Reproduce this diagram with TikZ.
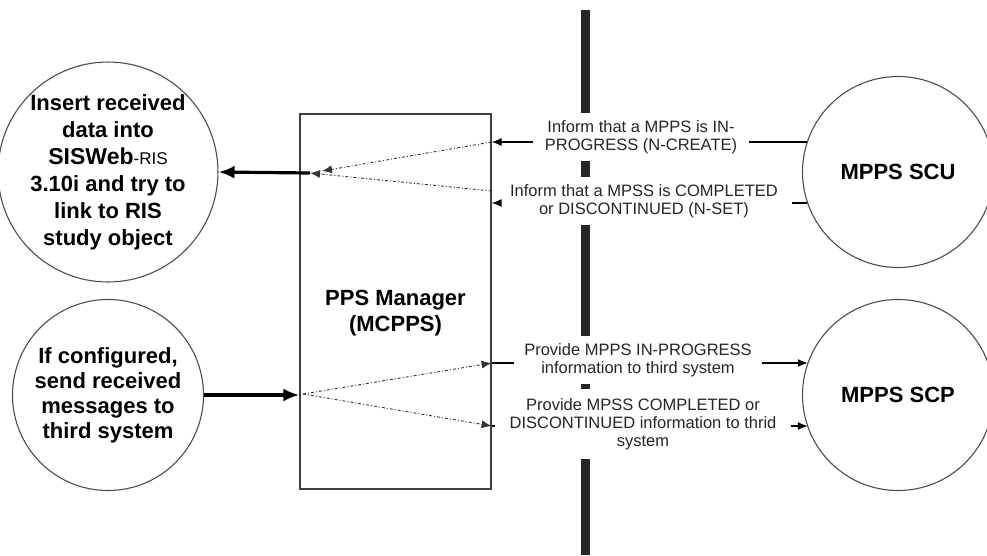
\documentclass[tikz,border=0pt]{standalone}
\usepackage{fontspec}
\setmainfont{Liberation Sans}
\usetikzlibrary{arrows.meta,positioning,calc}

\tikzset{
  bubble/.style={circle, draw=black!70, line width=1.1pt, minimum size=191pt, inner sep=0pt, align=center,
    font=\fontsize{22}{27}\selectfont\bfseries},
  msg/.style={fill=white, align=center, inner xsep=10pt, inner ysep=7pt, text=black!85,
    font=\fontsize{16.5}{18}\selectfont},
  flow/.style={-{Latex[length=10pt,width=8pt]}, line width=1.2pt},
  dotflow/.style={-{Latex[length=10pt,width=8pt]}, line width=0.9pt, black!80,
    dash pattern=on 3pt off 2pt on 1pt off 2pt},
  bigflow/.style={-{Latex[length=16pt,width=13pt]}, line width=3.2pt},
}

\begin{document}
\begin{tikzpicture}[x=1pt, y=-1pt]
\useasboundingbox (0,0) rectangle (987,555);

% the wall between the two sides
\coordinate (bartop) at (585,10);
\coordinate (barbot) at (585,555);
\draw[line width=9pt, black!85] (bartop) -- (barbot);

\node[bubble] (insert) at (108,172) {Insert received\\data into\\{\fontsize{23}{27}\selectfont SISWeb}{\mdseries\fontsize{17}{27}\selectfont -RIS}\\3.10i and try to\\link to RIS\\study object};
\node[bubble, font=\fontsize{22}{25}\selectfont\bfseries] (config) at (108,395) {If configured,\\send received\\messages to\\third system};
\node[bubble] (scu) at (898,172) {MPPS SCU};
\node[bubble] (scp) at (898,395) {MPPS SCP};

\node[draw=black!75, line width=1.2pt, minimum width=191pt, minimum height=375pt] (mgr) at (395.5,301.5) {};
\node[align=center, font=\fontsize{22}{26}\selectfont\bfseries] (mgrtxt) at (395.5,313) {PPS Manager\\(MCPPS)};

% message labels sit on the wall
\node[msg, inner xsep=12pt] (m1) at (641,137) {Inform that a MPPS is IN-\\PROGRESS (N-CREATE)};
\node[msg, inner xsep=14pt] (m2) at (644,201) {Inform that a MPSS is COMPLETED\\or DISCONTINUED (N-SET)};
\node[msg] (m3) at (638,360) {Provide MPPS IN-PROGRESS\\information to third system};
\node[msg, inner xsep=14pt, inner ysep=9pt] (m4) at (643,424) {Provide MPSS COMPLETED or\\DISCONTINUED information to thrid\\system};

% points inside the manager
\coordinate (hubA) at (322,171);
\coordinate (hubB) at (310,173);
\coordinate (hubC) at (303,394);
\coordinate (inA) at (mgr.east |- 0,142);
\coordinate (inB) at (mgr.east |- 0,191);
\coordinate (inC) at (mgr.east |- 0,203);
\coordinate (outA) at (mgr.east |- 0,363);
\coordinate (outB) at (mgr.east |- 0,426);

% SCU -> manager
\draw[line width=1.2pt] (inA -| scu.161.7) -- (inA -| m1.east);
\draw[flow] (inA -| m1.west) -- (inA);
\draw[line width=1.2pt] (inC -| scu.198.9) -- (inC -| m2.east);
\draw[flow] (inC -| m2.west) -- (inC);
\draw[dotflow] (inA) -- (hubA);
\draw[dotflow] (inB) -- (hubB);
\draw[bigflow] (hubB) -- (insert.east);

% manager -> SCP
\draw[bigflow] (config.east) -- (config.east -| mgr.west);
\draw[dotflow] (hubC) -- (outA);
\draw[dotflow] (hubC) -- (outB);
\draw[line width=1.2pt] (outA) -- (outA -| m3.west);
\draw[flow] (outA -| m3.east) -- (outA -| scp.160);
\draw[line width=1.2pt] (outB) -- (outB -| m4.west);
\draw[flow] (outB -| m4.east) -- (outB -| scp.200);
\end{tikzpicture}
\end{document}
